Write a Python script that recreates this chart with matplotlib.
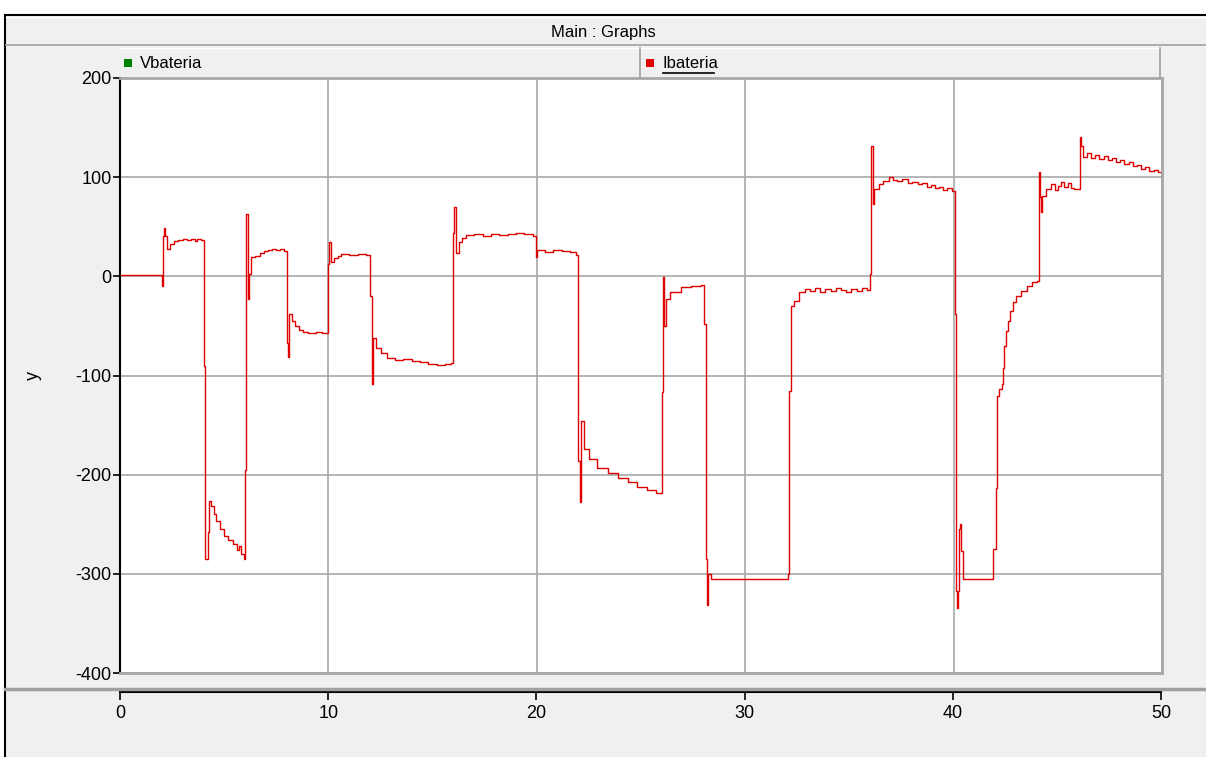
import matplotlib
matplotlib.use("Agg")
import matplotlib.pyplot as plt
from matplotlib.patches import Rectangle
from matplotlib.lines import Line2D

plt.rcParams["font.family"] = ["Liberation Sans", "DejaVu Sans"]

W, H = 1206, 757

# Ibateria trace (time in s, value), drawn as steps
t_vals = [
    0.0, 2.0, 2.05, 2.1, 2.15, 2.25, 2.4, 2.6, 2.8, 3.0, 3.2, 3.4, 3.6, 3.7, 3.9,
    4.03, 4.1, 4.2, 4.25, 4.35, 4.5, 4.6, 4.8, 5.0, 5.2, 5.4, 5.6, 5.7, 5.8, 5.95,
    6.0, 6.07, 6.13, 6.2, 6.3, 6.5, 6.7, 6.9, 7.1, 7.3, 7.5, 7.7, 7.85,
    8.0, 8.05, 8.12, 8.25, 8.4, 8.6, 8.8, 9.0, 9.4, 9.7,
    10.0, 10.05, 10.12, 10.25, 10.45, 10.6, 11.0, 11.4, 11.8,
    12.0, 12.08, 12.15, 12.3, 12.5, 12.8, 13.2, 13.6, 14.0, 14.4, 14.8, 15.2, 15.6, 15.9,
    16.0, 16.05, 16.12, 16.25, 16.4, 16.6, 17.0, 17.4, 17.8, 18.2, 18.6, 19.0, 19.4, 19.8,
    19.95, 20.0, 20.4, 20.8, 21.2, 21.6, 21.9,
    22.0, 22.05, 22.12, 22.25, 22.5, 22.9, 23.4, 23.9, 24.4, 24.8, 25.3, 25.7,
    26.0, 26.05, 26.1, 26.18, 26.4, 26.9, 27.4, 27.9,
    28.0, 28.1, 28.15, 28.22, 28.35, 32.05,
    32.1, 32.2, 32.35, 32.6, 32.85, 33.1, 33.35, 33.6, 33.85, 34.1, 34.35, 34.6,
    34.85, 35.1, 35.35, 35.6, 35.85,
    36.0, 36.05, 36.12, 36.2, 36.4, 36.6, 36.9, 37.1, 37.3, 37.5, 37.8, 38.0, 38.3,
    38.5, 38.7, 38.9, 39.1, 39.3, 39.5, 39.7, 39.9,
    40.05, 40.1, 40.15, 40.2, 40.25, 40.3, 40.35, 40.45, 41.9,
    42.05, 42.1, 42.2, 42.3, 42.35, 42.4, 42.5, 42.6, 42.7, 42.85, 43.0, 43.25,
    43.5, 43.75, 44.0,
    44.1, 44.15, 44.2, 44.25, 44.45, 44.65, 44.85, 45.0, 45.15, 45.3, 45.5, 45.65, 45.8,
    46.05, 46.1, 46.2, 46.4, 46.6, 46.8, 47.0, 47.2, 47.4, 47.6, 47.8, 48.0, 48.2,
    48.4, 48.6, 48.8, 49.0, 49.2, 49.4, 49.6, 49.8, 50.0,
]
i_vals = [
    1, -10, 41, 49, 41, 28, 33, 36, 37, 38, 37, 38, 36, 38, 37,
    -90, -285, -258, -227, -232, -240, -247, -255, -262, -266, -270, -276, -272, -280, -285,
    -195, 63, -23, 2, 19, 21, 24, 26, 27, 28, 27, 28, 26,
    -67, -81, -38, -45, -50, -54, -56, -57, -56, -57,
    12, 35, 14, 18, 21, 23, 22, 23, 22,
    -20, -109, -62, -72, -77, -82, -84, -83, -85, -86, -88, -89, -88, -87,
    44, 70, 24, 35, 39, 42, 43, 41, 43, 42, 43, 44, 43, 41,
    19, 27, 25, 27, 26, 25, 22,
    -186, -228, -146, -174, -184, -193, -198, -203, -207, -212, -215, -218,
    -117, -1, -50, -23, -16, -11, -10, -9,
    -48, -285, -331, -300, -305, -300,
    -116, -30, -25, -16, -13, -15, -12, -16, -13, -15, -12, -14,
    -16, -13, -15, -12, -14,
    2, 131, 73, 88, 93, 96, 100, 97, 96, 98, 94, 95, 93,
    94, 90, 92, 89, 90, 87, 89, 86,
    -38, -317, -334, -317, -255, -250, -277, -305, -275,
    -213, -121, -114, -109, -92, -70, -55, -45, -35, -26, -20, -15,
    -10, -6, -5,
    105, 80, 65, 81, 88, 93, 87, 91, 95, 90, 94, 89, 88,
    141, 131, 120, 124, 119, 122, 118, 121, 117, 119, 115, 117, 113,
    115, 111, 112, 108, 110, 106, 107, 105, 106,
]

y_ticks = [-400, -300, -200, -100, 0, 100, 200]
x_ticks = [0, 10, 20, 30, 40, 50]


def fx(px):
    return px / W


def fy(py):
    return 1 - py / H


fig = plt.figure(figsize=(W / 100, H / 100), dpi=100)
fig.patch.set_facecolor("white")

# panel background + frame
fig.patches.append(Rectangle((fx(5), 0), 1 - fx(5), fy(15), transform=fig.transFigure,
                             facecolor="#f0f0f0", edgecolor="none", zorder=-5))
fig.lines.append(Line2D([fx(5), 1], [fy(15), fy(15)], transform=fig.transFigure, color="black", lw=1.5))
fig.lines.append(Line2D([fx(5), fx(5)], [0, fy(15)], transform=fig.transFigure, color="black", lw=1.5))
fig.lines.append(Line2D([fx(6), 1], [fy(17), fy(17)], transform=fig.transFigure, color="white", lw=1))

# title bar
fig.text(fx(603), fy(32), "Main : Graphs", ha="center", va="center", fontsize=12)
fig.lines.append(Line2D([fx(6), 1], [fy(45), fy(45)], transform=fig.transFigure, color="#a0a0a0", lw=1.2))

# legend bar
fig.lines.append(Line2D([fx(120), fx(1160)], [fy(48), fy(48)], transform=fig.transFigure, color="white", lw=1))
fig.lines.append(Line2D([fx(1160), fx(1160)], [fy(48), fy(77)], transform=fig.transFigure, color="#a0a0a0", lw=1.2))
fig.lines.append(Line2D([fx(640), fx(640)], [fy(48), fy(77)], transform=fig.transFigure, color="#a0a0a0", lw=1.2))
fig.patches.append(Rectangle((fx(124), fy(67)), fx(8), 8 / H, transform=fig.transFigure,
                             facecolor="#008000", edgecolor="none"))
fig.text(fx(140), fy(63), "Vbateria", ha="left", va="center", fontsize=12)
fig.patches.append(Rectangle((fx(646), fy(67)), fx(8), 8 / H, transform=fig.transFigure,
                             facecolor="#e00000", edgecolor="none"))
fig.text(fx(663), fy(63), "Ibateria", ha="left", va="center", fontsize=12)
fig.lines.append(Line2D([fx(663), fx(714)], [fy(73), fy(73)], transform=fig.transFigure, color="black", lw=1.2))

# main plot
ax = fig.add_axes([fx(120), fy(673), fx(1162) - fx(120), fy(78) - fy(673)])
ax.set_facecolor("white")
ax.plot(t_vals, i_vals, drawstyle="steps-post", color="#e00000", lw=1.0)
ax.set_xlim(0, 50)
ax.set_ylim(-400, 200)
ax.set_xticks(x_ticks)
ax.set_yticks(y_ticks)
ax.set_xticklabels([])
ax.set_yticklabels([str(v) for v in y_ticks], fontsize=13)
ax.tick_params(axis="x", length=0)
ax.tick_params(axis="y", direction="out", length=5, width=1.2, color="black", pad=1)
ax.grid(True, color="#a8a8a8", lw=1.2)
ax.set_axisbelow(True)
ax.spines["left"].set_color("black")
ax.spines["left"].set_linewidth(1.5)
for s in ["right", "bottom", "top"]:
    ax.spines[s].set_color("#a8a8a8")
    ax.spines[s].set_linewidth(2)
ax.set_ylabel("y", fontsize=13, labelpad=24)

# separator and lower x axis
fig.lines.append(Line2D([fx(5), 1], [fy(689), fy(689)], transform=fig.transFigure, color="#a0a0a0", lw=2.5))
ax2 = fig.add_axes([fx(120), fy(692), fx(1161) - fx(120), 0.0001])
ax2.set_xlim(0, 50)
ax2.set_xticks(x_ticks)
ax2.set_xticklabels([str(v) for v in x_ticks], fontsize=13)
ax2.set_yticks([])
ax2.tick_params(axis="x", direction="out", length=6, width=1.2, pad=3)
for s in ["left", "right", "top"]:
    ax2.spines[s].set_visible(False)
ax2.spines["bottom"].set_linewidth(1.5)
ax2.patch.set_visible(False)

plt.savefig("out.png", dpi=100)
